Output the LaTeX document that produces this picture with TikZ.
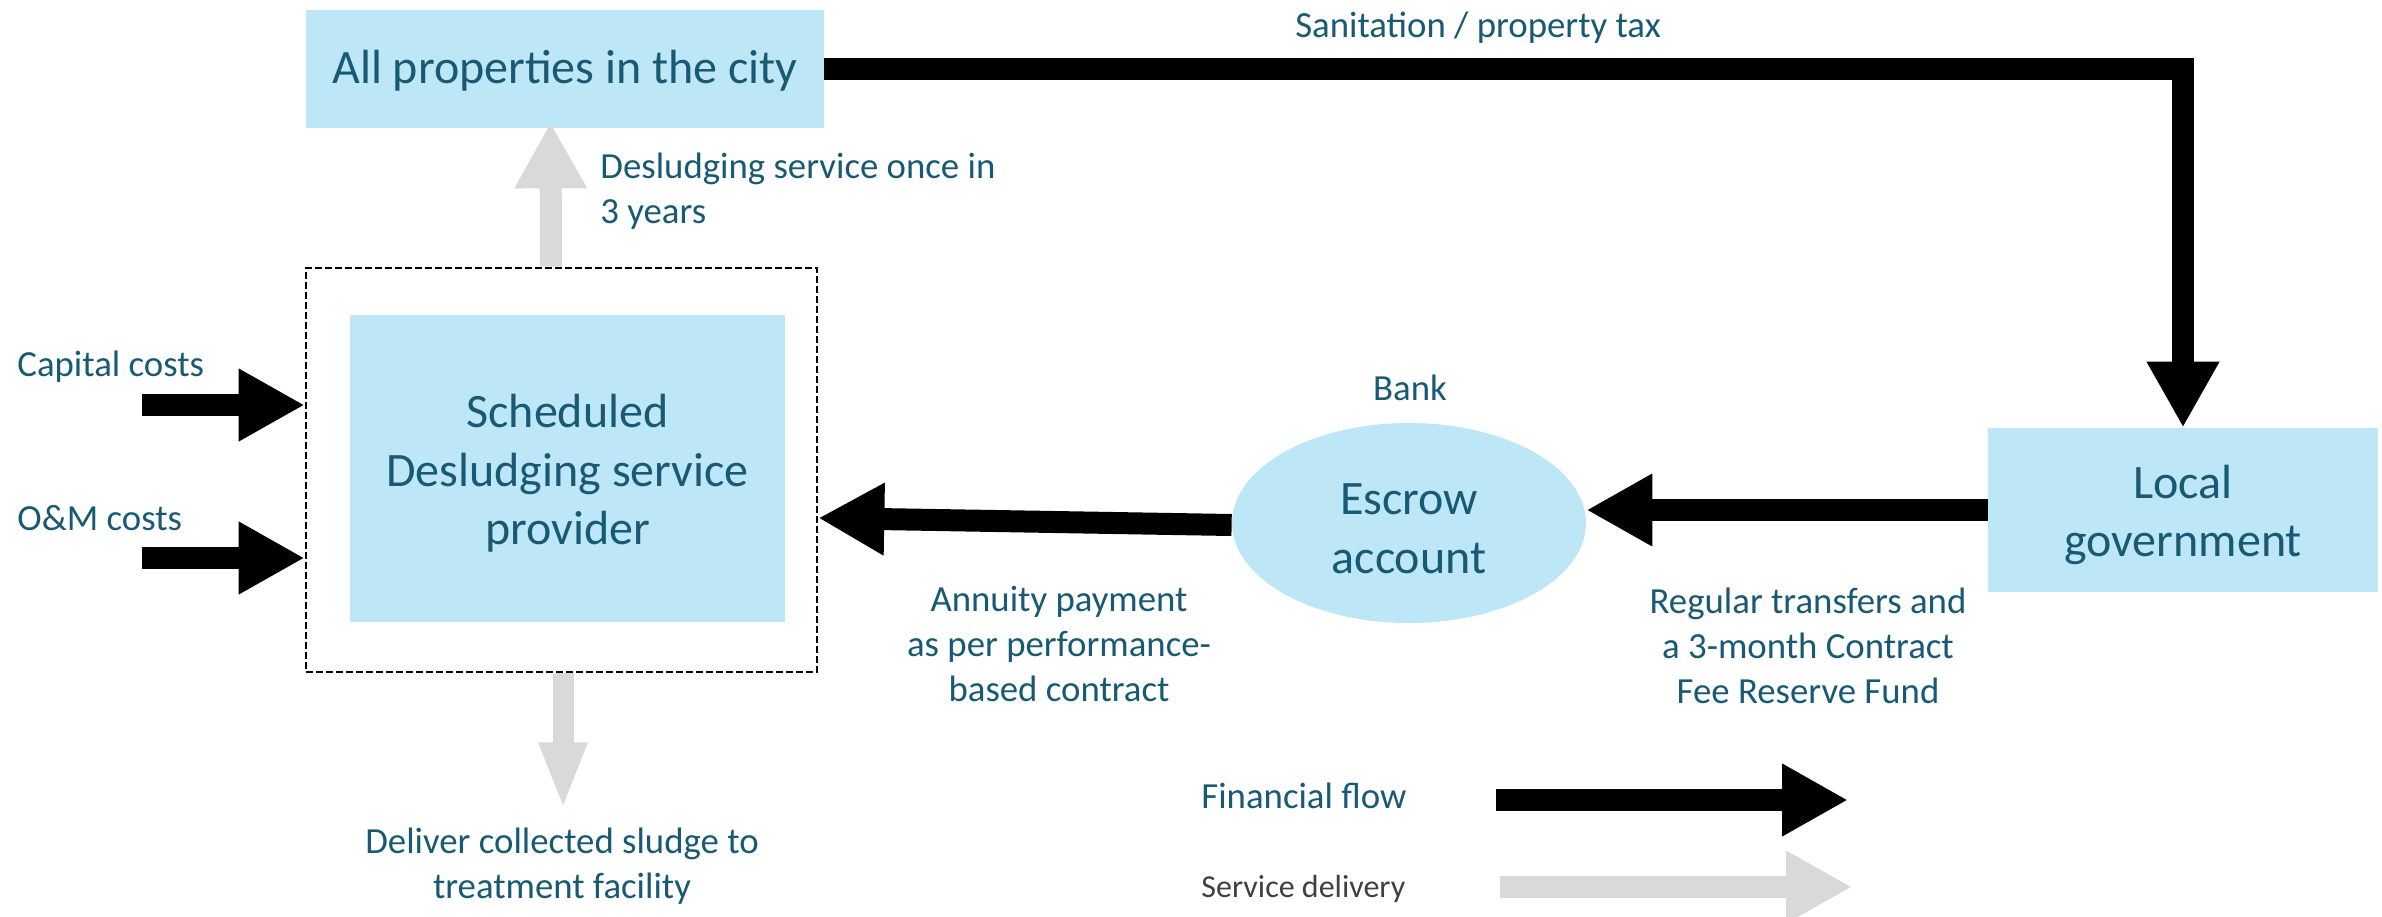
\documentclass[tikz,border=0pt]{standalone}
\usepackage{fontspec}
\setmainfont{Carlito}
\usetikzlibrary{arrows.meta,calc,shapes.geometric}
\definecolor{boxblue}{RGB}{189,230,246}
\definecolor{tealtxt}{RGB}{24,90,115}
\definecolor{lgrey}{RGB}{217,217,217}
\definecolor{dgrey}{RGB}{64,64,64}
\tikzset{
  blockbox/.style={fill=boxblue, draw=none, inner sep=0pt},
  boxtxt/.style={inner sep=0pt, align=center, text=tealtxt,
    font=\fontsize{24}{29.3}\selectfont},
  lbl/.style={inner sep=0pt, text=tealtxt, font=\fontsize{18.4}{22.5}\selectfont},
  fin/.style={draw=black, line width=11pt, line join=miter,
    -{Triangle[length=33pt,width=34pt]}},
  svc/.style={draw=lgrey, line width=11pt,
    -{Triangle[length=33pt,width=34pt]}},
  svcnarrow/.style={draw=lgrey, line width=10.5pt,
    -{Triangle[length=33.5pt,width=22pt]}},
}
\begin{document}
\begin{tikzpicture}[x=0.5pt,y=-0.5pt]
\useasboundingbox (0,0) rectangle (2382,916);
% boxes
\node[blockbox, minimum width=259pt, minimum height=59pt] (top) at (565,69) {};
\node[draw=black, line width=1.3pt, dash pattern=on 3.5pt off 1.5pt, inner sep=0pt,
      minimum width=255.5pt, minimum height=202pt] (dash) at (561.5,470) {};
\node[blockbox, minimum width=217.5pt, minimum height=153.5pt] (prov) at (567.5,468.5) {};
\node[blockbox, ellipse, minimum width=177pt, minimum height=100pt] (esc) at (1409,523) {};
\node[blockbox, minimum width=195pt, minimum height=82pt] (gov) at (2183,510) {};
% box texts
\node[boxtxt] (toptxt) at ($(top.center)+(0,2)$) {All properties in the city};
\node[boxtxt] (provtxt) at ($(prov.center)+(0,5)$) {Scheduled\\Desludging service\\provider};
\node[boxtxt] (esctxt) at ($(esc.center)+(0,6)$) {Escrow\\account};
\node[boxtxt] (govtxt) at ($(gov.center)+(0,5)$) {Local\\government};
% labels
\node[lbl] (tax) at (1478,28) {Sanitation / property tax};
\node[lbl, anchor=west, align=left] (dsl) at (600,191) {Desludging service once in\\3 years};
\node[lbl, anchor=west] (capl) at (17,367) {Capital costs};
\node[lbl, anchor=west] (oml) at (17,518) {O\&M costs};
\node[lbl] (bank) at (1410,388) {Bank};
\node[lbl, align=center] (ann) at (1059,644) {Annuity payment\\as per performance-\\based contract};
\node[lbl, align=center] (reg) at (1808,646) {Regular transfers and\\a 3-month Contract\\Fee Reserve Fund};
\node[lbl, align=center] (dlv) at (562,866) {Deliver collected sludge to\\treatment facility};
\node[lbl, anchor=west] (legf) at (1201,796) {Financial flow};
\node[inner sep=0pt, anchor=west, text=dgrey, font=\fontsize{16}{19.5}\selectfont] (legs) at (1201,889) {Service delivery};
% connectors
\draw[fin] (top.east) -| (gov.north);
\draw[fin] (gov.west) -- (gov.west -| esc.east);
\draw[fin] ($(esc.west)+(0,2)$) -- ($(dash.east)+(0,48)$);
\coordinate (capin) at (142,405);
\coordinate (omin) at (142,558);
\draw[fin] (capin) -- (capin -| dash.west);
\draw[fin] (omin) -- (omin -| dash.west);
\draw[svc] ($(dash.north)+(-10.5,0)$) -- ($(top.south)+(-14.5,-6)$);
\draw[svcnarrow] ($(dash.south)+(1.5,0)$) -- ($(dash.south)+(1.5,136)$);
% legend
\coordinate (lf1) at (1496,800);
\coordinate (lf2) at (1848,800);
\coordinate (ls1) at (1500,887);
\coordinate (ls2) at (1852,887);
\draw[fin] (lf1) -- (lf2);
\draw[svc] (ls1) -- (ls2);
\end{tikzpicture}
\end{document}
